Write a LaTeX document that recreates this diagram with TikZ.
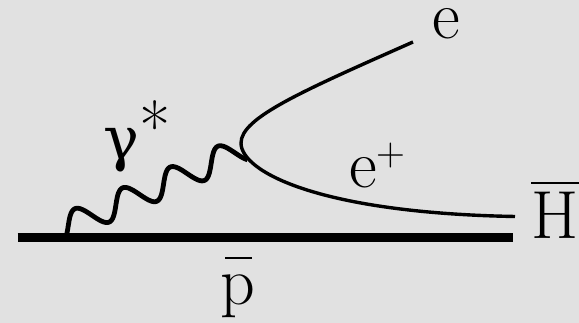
\documentclass[tikz,border=0pt]{standalone}
\usepackage{fontspec}
\newfontfamily\greekserif{DejaVu Serif}
\definecolor{bgcol}{HTML}{E1E1E1}
\tikzset{
  fermion/.style={line width=3.4pt, black},
  photon/.style={line width=4.8pt, black, line join=round},
  pbarline/.style={line width=8.5pt, black},
  lbl/.style={inner sep=0pt, anchor=base west, font=\fontsize{68}{80}\selectfont}
}
\begin{document}
\begin{tikzpicture}[x=1pt,y=-1pt]
\fill[bgcol] (0,0) rectangle (579,323);
\useasboundingbox (0,0) rectangle (579,323);
% coordinates
\coordinate (pL) at (17.5,237.5);
\coordinate (pR) at (513,237.5);
\coordinate (eend) at (413,42);
\coordinate (vtx) at (241,143);
\coordinate (hend) at (515,216.5);
% photon
\draw[photon] plot[domain=0:199.7, samples=160, smooth, variable=\s]
  ({62 + 0.9164*\s + 0.4006*(-5-13*cos(6.9231*(\s-22)))},
   {234 - 0.4006*\s + 0.9164*(-5-13*cos(6.9231*(\s-22)))});
% antiproton line
\draw[pbarline] (pL) -- (pR);
% electron / positron line
\draw[fermion] (eend) .. controls (300,92) and (241,118) .. (vtx)
  .. controls (241,172) and (320,213) .. (hend);
% labels
\node[lbl] (le) at (432,39) {e};
\node[lbl] (lep) at (349,188) {e\raisebox{22pt}{\fontsize{40}{40}\selectfont +}};
\node[lbl] (lH) at (531,239) {\rlap{\rule[54.8pt]{50pt}{2.5pt}}H};
\node[lbl] (lp) at (220,305) {\rlap{\hspace{5pt}\rule[45.7pt]{27pt}{2pt}}p};
\node[lbl] (lg) at (103,160) {{\greekserif\fontsize{60}{70}\selectfont γ}\raisebox{8pt}{*}};
\end{tikzpicture}
\end{document}
